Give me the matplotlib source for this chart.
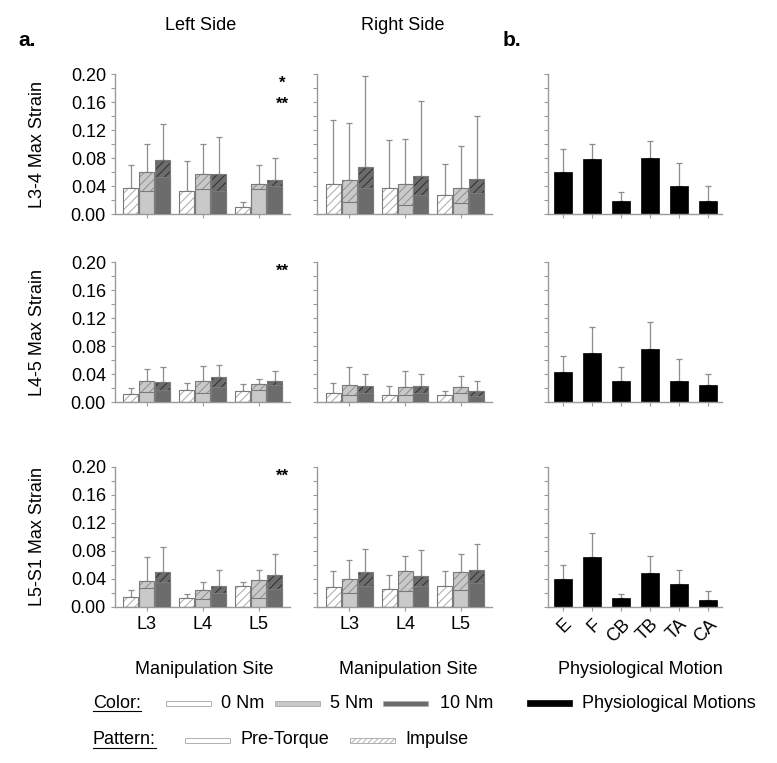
import matplotlib
matplotlib.use('Agg')
import matplotlib.pyplot as plt
import matplotlib.patches as mpatches
import numpy as np

plt.rcParams['font.family'] = ['Liberation Sans', 'DejaVu Sans']
plt.rcParams['hatch.linewidth'] = 0.7

# %%
# Categories
levels = ['L3-4', 'L4-5', 'L5-S1']
sites = ['L3', 'L4', 'L5']
torques = ['0 Nm', '5 Nm', '10 Nm']
motions = ['E', 'F', 'CB', 'TB', 'TA', 'CA']

# Impulse (total) max strain, rows = site L3/L4/L5, cols = 0/5/10 Nm
l34_left_imp = [[0.038, 0.061, 0.077], [0.033, 0.058, 0.058], [0.010, 0.043, 0.049]]
l34_left_pre = [[0.0, 0.034, 0.054], [0.0, 0.036, 0.034], [0.0, 0.036, 0.041]]
l34_left_sd = [[0.032, 0.039, 0.052], [0.043, 0.042, 0.053], [0.008, 0.027, 0.032]]

l34_right_imp = [[0.044, 0.049, 0.067], [0.037, 0.043, 0.055], [0.027, 0.038, 0.051]]
l34_right_pre = [[0.0, 0.017, 0.037], [0.0, 0.014, 0.027], [0.0, 0.016, 0.030]]
l34_right_sd = [[0.091, 0.082, 0.130], [0.069, 0.064, 0.107], [0.045, 0.060, 0.090]]

l45_left_imp = [[0.0125, 0.031, 0.029], [0.017, 0.031, 0.0365], [0.0155, 0.026, 0.030]]
l45_left_pre = [[0.0, 0.015, 0.018], [0.0, 0.013, 0.022], [0.0, 0.017, 0.0245]]
l45_left_sd = [[0.0075, 0.017, 0.022], [0.010, 0.021, 0.0175], [0.0105, 0.008, 0.015]]

l45_right_imp = [[0.014, 0.025, 0.024], [0.011, 0.022, 0.024], [0.010, 0.022, 0.016]]
l45_right_pre = [[0.0, 0.011, 0.013], [0.0, 0.010, 0.014], [0.0, 0.013, 0.0085]]
l45_right_sd = [[0.013, 0.026, 0.017], [0.013, 0.023, 0.016], [0.006, 0.016, 0.015]]

l5s1_left_imp = [[0.014, 0.037, 0.0495], [0.013, 0.024, 0.030], [0.0295, 0.038, 0.046]]
l5s1_left_pre = [[0.0, 0.027, 0.036], [0.0, 0.011, 0.019], [0.0, 0.012, 0.025]]
l5s1_left_sd = [[0.010, 0.034, 0.0365], [0.005, 0.011, 0.022], [0.0055, 0.014, 0.030]]

l5s1_right_imp = [[0.028, 0.039, 0.049], [0.026, 0.051, 0.044], [0.030, 0.049, 0.053]]
l5s1_right_pre = [[0.0, 0.019, 0.030], [0.0, 0.023, 0.029], [0.0, 0.024, 0.034]]
l5s1_right_sd = [[0.023, 0.028, 0.034], [0.020, 0.022, 0.037], [0.021, 0.027, 0.037]]

# Physiological motions
l34_phys = [0.060, 0.079, 0.019, 0.080, 0.040, 0.0195]
l34_phys_sd = [0.034, 0.022, 0.013, 0.025, 0.033, 0.0215]
l45_phys = [0.044, 0.071, 0.030, 0.076, 0.030, 0.025]
l45_phys_sd = [0.022, 0.037, 0.020, 0.039, 0.032, 0.015]
l5s1_phys = [0.040, 0.071, 0.012, 0.048, 0.032, 0.009]
l5s1_phys_sd = [0.020, 0.034, 0.006, 0.024, 0.020, 0.013]

# significance markers on left side
left_stars = [['*', '**'], ['**'], ['**']]

# %%
fills = ['white', '#c9c9c9', '#6c6c6c']
hatch_cols = ['#a8a8a8', '#8e8e8e', '#2e2e2e']
edge = '#7a7a7a'
axis_col = '#9a9a9a'
offsets = [-0.285, 0.0, 0.285]
bar_w = 0.27
fs = 13

fig = plt.figure(figsize=(7.77, 7.63), dpi=100)
W, H = 777, 763


def add_ax(x0, y_top, w, h):
    return fig.add_axes([x0 / W, 1 - (y_top + h) / H, w / W, h / H])


def style(ax, xlim, ylabels, xlabels, ticks, ticklabels):
    ax.set_xlim(*xlim)
    ax.set_ylim(0, 0.2)
    ax.set_yticks(np.arange(0, 0.201, 0.04))
    ax.set_yticks(np.arange(0.02, 0.2, 0.04), minor=True)
    ax.set_xticks(ticks)
    for s in ['top', 'right']:
        ax.spines[s].set_visible(False)
    for s in ['left', 'bottom']:
        ax.spines[s].set_color(axis_col)
        ax.spines[s].set_linewidth(1.0)
    ax.tick_params(which='both', color=axis_col, length=3, width=0.8, labelsize=fs)
    if ylabels:
        ax.set_yticklabels(['%.2f' % v for v in np.arange(0, 0.201, 0.04)])
    else:
        ax.tick_params(labelleft=False)
    if xlabels:
        ax.set_xticklabels(ticklabels)
    else:
        ax.tick_params(labelbottom=False)


def draw_side(ax, imp, pre, sd):
    x = np.arange(len(sites))
    for j in range(len(torques)):
        xs = x + offsets[j]
        h = [row[j] for row in imp]
        p = [row[j] for row in pre]
        e = [row[j] for row in sd]
        ax.bar(xs, h, bar_w, color=fills[j], edgecolor=hatch_cols[j], hatch='////', linewidth=0, zorder=2)
        ax.bar(xs, p, bar_w, color=fills[j], linewidth=0, zorder=3)
        ax.bar(xs, p, bar_w, fill=False, edgecolor=edge, linewidth=0.8, zorder=4)
        ax.bar(xs, h, bar_w, fill=False, edgecolor=edge, linewidth=0.8, zorder=4)
        ax.errorbar(xs, h, yerr=[np.zeros(len(h)), e], fmt='none', ecolor='#8c8c8c',
                    elinewidth=0.9, capsize=2, capthick=0.9, zorder=1)


def draw_phys(ax, vals, sd):
    x = np.arange(len(motions))
    ax.bar(x, vals, 0.61, color='black', edgecolor='black', linewidth=0.5, zorder=2)
    ax.errorbar(x, vals, yerr=[np.zeros(len(vals)), sd], fmt='none', ecolor='#8c8c8c',
                elinewidth=0.9, capsize=2, capthick=0.9, zorder=1)


left_data = [(l34_left_imp, l34_left_pre, l34_left_sd),
             (l45_left_imp, l45_left_pre, l45_left_sd),
             (l5s1_left_imp, l5s1_left_pre, l5s1_left_sd)]
right_data = [(l34_right_imp, l34_right_pre, l34_right_sd),
              (l45_right_imp, l45_right_pre, l45_right_sd),
              (l5s1_right_imp, l5s1_right_pre, l5s1_right_sd)]
phys_data = [(l34_phys, l34_phys_sd), (l45_phys, l45_phys_sd), (l5s1_phys, l5s1_phys_sd)]

row_tops = [74.3, 262.3, 466.7]
row_h = 140

for r in range(3):
    last = r == 2
    ax = add_ax(115, row_tops[r], 175, row_h)
    draw_side(ax, *left_data[r])
    style(ax, (-0.566, 2.56), True, last, np.arange(3), sites)
    for k, s in enumerate(left_stars[r]):
        ax.text(0.955, [0.935, 0.785][k], s, transform=ax.transAxes, ha='center', va='center',
                fontsize=12, fontweight='bold')

    ax = add_ax(317, row_tops[r], 175, row_h)
    draw_side(ax, *right_data[r])
    style(ax, (-0.58, 2.56), False, last, np.arange(3), sites)

    ax = add_ax(548, row_tops[r], 174, row_h)
    draw_phys(ax, *phys_data[r])
    style(ax, (-0.52, 5.48), False, last, np.arange(6), motions)
    if last:
        for lab in ax.get_xticklabels():
            lab.set_rotation(45)
            lab.set_ha('right')
            lab.set_rotation_mode('anchor')

    fig.text(38 / W, 1 - (row_tops[r] + row_h / 2) / H, levels[r] + ' Max Strain',
             rotation=90, ha='center', va='center', fontsize=fs)

# %%
# Headers, axis titles and legend drawn in pixel coordinates
ov = fig.add_axes([0, 0, 1, 1])
ov.set_xlim(0, W)
ov.set_ylim(H, 0)
ov.axis('off')

ov.text(18, 40, 'a.', fontsize=15, fontweight='bold', va='center')
ov.text(503, 40, 'b.', fontsize=15, fontweight='bold', va='center')
ov.text(201, 25, 'Left Side', fontsize=fs, ha='center', va='center')
ov.text(403, 25, 'Right Side', fontsize=fs, ha='center', va='center')

ov.text(204, 670, 'Manipulation Site', fontsize=fs, ha='center', va='center')
ov.text(408, 670, 'Manipulation Site', fontsize=fs, ha='center', va='center')
ov.text(640, 670, 'Physiological Motion', fontsize=fs, ha='center', va='center')

row1_y, row2_y = 703, 740
t_color = ov.text(93, row1_y, 'Color:', fontsize=fs, va='center')
t_pat = ov.text(93, row2_y, 'Pattern:', fontsize=fs, va='center')

color_patch_x = [166, 275, 383]
color_text_x = [221, 330, 440]
for j in range(len(torques)):
    ov.add_patch(mpatches.Rectangle((color_patch_x[j], row1_y - 2.5), 45, 5, facecolor=fills[j],
                                    edgecolor='#b0b0b0', linewidth=0.7))
    ov.text(color_text_x[j], row1_y, torques[j], fontsize=fs, va='center')
ov.add_patch(mpatches.Rectangle((527, row1_y - 3), 45, 6, facecolor='black', edgecolor='black', linewidth=0.5))
ov.text(582, row1_y, 'Physiological Motions', fontsize=fs, va='center')

ov.add_patch(mpatches.Rectangle((185, row2_y - 2.5), 45, 5, facecolor='white', edgecolor='#b0b0b0', linewidth=0.7))
ov.text(241, row2_y, 'Pre-Torque', fontsize=fs, va='center')
ov.add_patch(mpatches.Rectangle((350, row2_y - 2.5), 45, 5, facecolor='white', edgecolor='#b0b0b0',
                                hatch='//////', linewidth=0.7))
ov.text(405, row2_y, 'Impulse', fontsize=fs, va='center')

# underline the legend headings
fig.canvas.draw()
inv = ov.transData.inverted()
for t in [t_color, t_pat]:
    bb = t.get_window_extent()
    (x0, y0), (x1, _) = inv.transform([[bb.x0, bb.y0], [bb.x1, bb.y1]])
    ov.plot([x0, x1], [y0 - 1, y0 - 1], color='black', linewidth=0.8)

fig.savefig('out.png', dpi=100)
